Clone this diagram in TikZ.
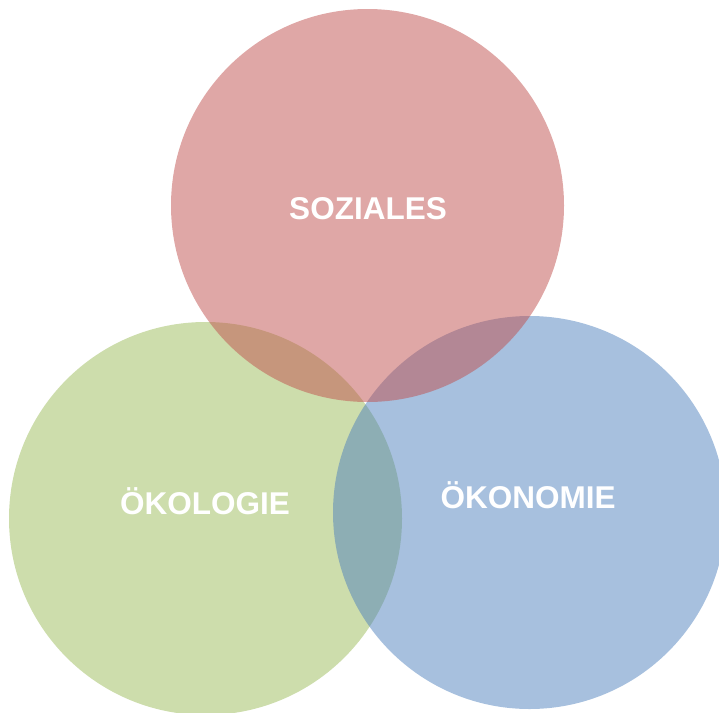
\documentclass[tikz,border=0pt]{standalone}
\usepackage{fontspec}
\setmainfont{Liberation Sans}
\definecolor{cred}{HTML}{C0504D}
\definecolor{cgreen}{HTML}{9BBB59}
\definecolor{cblue}{HTML}{4F81BD}
\begin{document}
\begin{tikzpicture}[x=1pt,y=-1pt,
  venn/.style={circle, minimum size=393pt, inner sep=0pt, draw=none, fill opacity=0.5},
  lbl/.style={text=white, font=\fontsize{31.5}{36}\selectfont\bfseries, anchor=base, inner sep=0pt}]
\useasboundingbox (0,0) rectangle (719,712);
\node[venn, fill=cgreen] (oeko) at (205.5,518.5) {};
\node[venn, fill=cblue] (oekon) at (529.5,512.5) {};
\node[venn, fill=cred] (soz) at (367.5,205.5) {};
\node[lbl] (tsoz) at (368,219) {SOZIALES};
\node[lbl] (toeko) at (205,514) {ÖKOLOGIE};
\node[lbl] (toekon) at (528,508) {ÖKONOMIE};
\end{tikzpicture}
\end{document}
